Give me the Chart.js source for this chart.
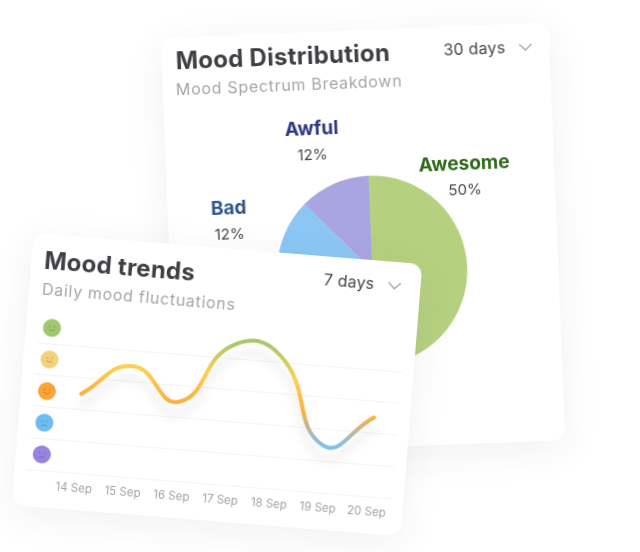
<!DOCTYPE html>
<html>
<head>
<meta charset="utf-8">
<title>Mood charts</title>
<script src="https://cdn.jsdelivr.net/npm/chart.js@4"></script>
<style>
  html, body { margin: 0; padding: 0; background: #fff; width: 640px; height: 552px; overflow: hidden; }
  body { font-family: Inter, "Open Sans", sans-serif; }
  .card { position: absolute; background: #fff; border-radius: 12px; box-shadow: 0 8px 40px rgba(60, 60, 80, 0.07); }
  #distCard { left: 169px; top: 30px; width: 388px; height: 418px; transform: rotate(-2.3deg); }
  #trendCard { left: 22px; top: 248px; width: 390px; height: 273px; transform: rotate(4.6deg); }
  .card canvas { position: absolute; left: 0; top: 0; }
  .txt { position: absolute; transform: translateY(-50%); white-space: nowrap; }
  .title { font-weight: 700; font-size: 24px; letter-spacing: 0.25px; color: #3f3f44; }
  .sub { font-size: 16px; letter-spacing: 0.7px; color: #a6a6ab; }
  .range { font-size: 16px; letter-spacing: 0.2px; color: #47474c; }
  .chev { position: absolute; width: 8px; height: 8px; border-right: 1.5px solid #8a8a90; border-bottom: 1.5px solid #8a8a90; transform: translate(-50%, -70%) rotate(45deg); }
</style>
</head>
<body>
<div class="card" id="distCard">
  <canvas id="distChart" width="388" height="418"></canvas>
  <div class="txt title" style="left:14px;top:23px">Mood Distribution</div>
  <div class="txt sub" style="left:13px;top:52px">Mood Spectrum Breakdown</div>
  <div class="txt range" style="left:282px;top:23px">30 days</div>
  <div class="chev" style="left:364px;top:23px"></div>
</div>
<div class="card" id="trendCard">
  <canvas id="trendChart" width="390" height="273"></canvas>
  <div class="txt title" style="left:13px;top:26px">Mood trends</div>
  <div class="txt sub" style="left:13px;top:55px">Daily mood fluctuations</div>
  <div class="txt range" style="left:293px;top:23px">7 days</div>
  <div class="chev" style="left:364px;top:23px"></div>
</div>

<script>
// Pie data, Okay and Good sit behind the front card
const moodNames = ["Awesome", "Good", "Okay", "Bad", "Awful"];
const moodShares = [50, 14, 12, 12, 12];
const moodColors = ["#b5d17f", "#f5d77e", "#f9b24e", "#8bc6f4", "#a9a5e3"];
const moodTextColors = ["#2f6b1a", "#8a6d1a", "#a8651a", "#2f5596", "#2b3a82"];
// where each pie label goes on the card
const labelSpots = [[298, 138.5], [120, 340], [80, 270], [61, 173], [147, 97]];

// Line data, 1 = awful ... 5 = awesome
const days = ["14 Sep", "15 Sep", "16 Sep", "17 Sep", "18 Sep", "19 Sep", "20 Sep"];
const moodByDay = [3, 4, 3, 4.9, 4.7, 2, 3];
const levels = [5, 4, 3, 2, 1];
const levelColors = ["#a0c86e", "#f2d27a", "#fba435", "#6fbcf2", "#9685e0"];
const lineStops = ["#a9c76f", "#fdd04e", "#fbb040", "#80c0ee"];

// Draws the name and percent next to the pie
const pieLabels = {
  id: "pieLabels",
  afterDraw(chart) {
    const ctx = chart.ctx;
    ctx.save();
    ctx.textAlign = "center";
    ctx.textBaseline = "middle";
    moodNames.forEach((name, i) => {
      const [x, y] = labelSpots[i];
      ctx.font = "700 19px Inter, sans-serif";
      ctx.fillStyle = moodTextColors[i];
      ctx.fillText(name, x, y);
      ctx.font = "400 15px Inter, sans-serif";
      ctx.fillStyle = "#47474c";
      ctx.fillText(moodShares[i] + "%", x, y + 26);
    });
    ctx.restore();
  }
};

new Chart(document.getElementById("distChart"), {
  type: "pie",
  data: {
    labels: moodNames,
    datasets: [{ data: moodShares, backgroundColor: moodColors, borderWidth: 0 }]
  },
  options: {
    responsive: false,
    animation: false,
    layout: { padding: { left: 107, right: 91, top: 146, bottom: 82 } },
    plugins: { legend: { display: false }, tooltip: { enabled: false } }
  },
  plugins: [pieLabels]
});

// Small mood faces in place of the y tick labels
const moodIcons = {
  id: "moodIcons",
  afterDraw(chart) {
    const ctx = chart.ctx;
    const y = chart.scales.y;
    levels.forEach((level, i) => {
      const cy = y.getPixelForValue(level);
      const cx = 26;
      ctx.save();
      ctx.fillStyle = levelColors[i];
      ctx.beginPath();
      ctx.arc(cx, cy, 9, 0, Math.PI * 2);
      ctx.fill();
      ctx.strokeStyle = "rgba(60, 60, 60, 0.4)";
      ctx.lineWidth = 0.8;
      ctx.beginPath();
      ctx.moveTo(cx - 3.5, cy - 2);
      ctx.lineTo(cx - 1.5, cy - 1);
      ctx.moveTo(cx + 3.5, cy - 2);
      ctx.lineTo(cx + 1.5, cy - 1);
      if (level >= 3) {
        ctx.moveTo(cx - 3, cy + 1.5);
        ctx.quadraticCurveTo(cx, cy + 4, cx + 3, cy + 1.5);
      } else {
        ctx.moveTo(cx - 3, cy + 3.5);
        ctx.quadraticCurveTo(cx, cy + 1, cx + 3, cy + 3.5);
      }
      ctx.stroke();
      ctx.restore();
    });
  }
};

// Soft shadow under the line
const lineShadow = {
  id: "lineShadow",
  beforeDatasetDraw(chart) {
    const ctx = chart.ctx;
    ctx.save();
    ctx.shadowColor = "rgba(70, 70, 70, 0.13)";
    ctx.shadowBlur = 10;
    ctx.shadowOffsetY = 12;
  },
  afterDatasetDraw(chart) {
    chart.ctx.restore();
  }
};

function lineGradient(context) {
  const chart = context.chart;
  if (!chart.chartArea) return lineStops[0];
  const y = chart.scales.y;
  const g = chart.ctx.createLinearGradient(0, y.getPixelForValue(5), 0, y.getPixelForValue(2));
  lineStops.forEach((c, i) => g.addColorStop(i / (lineStops.length - 1), c));
  return g;
}

new Chart(document.getElementById("trendChart"), {
  type: "line",
  data: {
    labels: days,
    datasets: [{
      data: moodByDay,
      borderColor: lineGradient,
      borderWidth: 4,
      borderCapStyle: "round",
      tension: 0.5,
      pointRadius: 0,
      fill: false
    }]
  },
  options: {
    responsive: false,
    animation: false,
    layout: { padding: { top: 77.5, right: 11.4 } },
    plugins: { legend: { display: false }, tooltip: { enabled: false } },
    scales: {
      x: {
        offset: true,
        grid: { display: false },
        border: { display: false },
        ticks: { color: "#a3a3a8", font: { family: "Inter, sans-serif", size: 11.5 }, padding: 1, maxRotation: 0 },
        afterFit(scale) { scale.height = 37; }
      },
      y: {
        min: 0.5,
        max: 5.5,
        border: { display: false },
        grid: {
          color: (c) => (c.tick && c.tick.value === 5.5 ? "transparent" : "#f3f3f5"),
          tickColor: (c) => (c.tick && c.tick.value === 5.5 ? "transparent" : "#f3f3f5"),
          tickLength: 23
        },
        ticks: { stepSize: 1, display: false },
        afterFit(scale) { scale.width = 36; }
      }
    }
  },
  plugins: [lineShadow, moodIcons]
});
</script>
</body>
</html>
